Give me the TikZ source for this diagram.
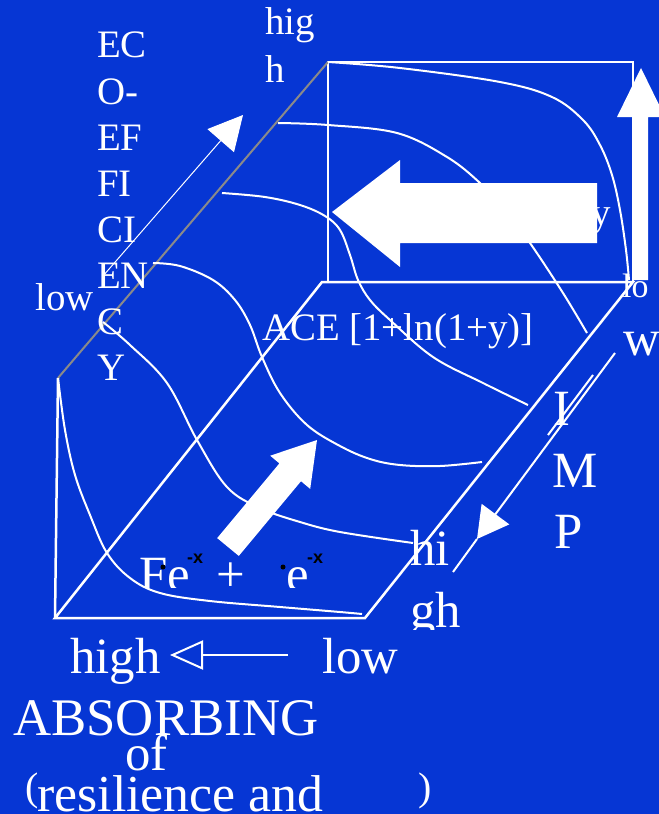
\documentclass[tikz,border=0pt]{standalone}
\usepackage{fontspec}
\setmainfont{Liberation Serif}
\newfontfamily\supfont{Liberation Sans}
\usetikzlibrary{arrows.meta}
\definecolor{slideblue}{HTML}{0636D4}
\definecolor{axisgray}{HTML}{8A8A8A}
\tikzset{
  lbl/.style={text=white,inner sep=0pt,anchor=base west,font=\fontsize{39}{46}\selectfont},
  biglbl/.style={lbl,font=\fontsize{51}{60}\selectfont},
  supx/.style={text=black,inner sep=0pt,anchor=base west,font=\supfont\bfseries\fontsize{18}{20}\selectfont},
  edge/.style={white,line width=2.5bp},
  curve/.style={white,line width=2bp},
}

\begin{document}
\begin{tikzpicture}[x=1bp,y=-1bp]
  \fill[slideblue] (0,0) rectangle (659,814);
  \useasboundingbox (0,0) rectangle (659,814);
  \clip (0,0) rectangle (659,814);

  % box corners
  \coordinate (bTL) at (328,62);  \coordinate (bTR) at (633,62);
  \coordinate (bBL) at (328,282); \coordinate (bBR) at (633,282);
  \coordinate (fBL) at (322,282); \coordinate (fFL) at (55,618);
  \coordinate (fFR) at (365,618); \coordinate (fTL) at (58,378);

  % back plane, floor, front edge
  \draw[edge] (bBL) -- (bTL) -- (bTR) -- (bBR);
  \draw[edge] (fFL) -- (fBL) -- (bBR) -- (fFR) -- cycle;
  \draw[edge] (fTL) -- (fFL);
  \draw[axisgray,line width=2bp] (fTL) -- (bTL);

  % response curves
  \draw[curve] plot[smooth,tension=0.6] coordinates {(58,378) (65,430) (75,475) (90,515) (107,553) (130,578) (160,593) (210,601) (280,607) (340,612) (362,614)};
  \draw[curve] plot[smooth,tension=0.6] coordinates {(103,322) (130,345) (167,383) (197,440) (227,487) (260,508) (300,522) (340,532) (413,543)};
  \draw[curve] plot[smooth,tension=0.6] coordinates {(153,263) (180,266) (213,280) (235,300) (250,325) (262,357) (280,393) (307,425) (340,446) (370,459) (400,465) (440,466) (482,462)};
  \draw[curve] plot[smooth,tension=0.6] coordinates {(222,193) (265,197) (300,205) (325,216) (340,230) (350,255) (358,280) (370,300) (390,320) (433,357) (483,383) (528,405)};
  \draw[curve] plot[smooth,tension=0.6] coordinates {(278,123) (328,125) (397,133) (447,157) (480,183) (505,210) (530,243) (563,293) (587,333)};
  \draw[curve] plot[smooth,tension=0.6] coordinates {(328,62) (400,68) (500,82) (552,97) (583,120) (600,145) (612,175) (620,210) (626,250) (629,280)};

  % eco-efficiency axis
  \foreach \t [count=\i] in {EC,O-,EF,FI,CI,EN,C,Y}
    \node[lbl] (eco\i) at (97,{58+46*(\i-1)}) {\t};
  \node[lbl] (ecohi1) at (265,35) {hig};
  \node[lbl] (ecohi2) at (265,82) {h};
  \node[lbl] (ecolow) at (35,310) {low};
  \coordinate (ecoS) at (103,276); \coordinate (ecoE) at (243,115);
  \draw[white,line width=1bp,-{Triangle[length=34bp,width=35bp]}] (ecoS) -- (ecoE);

  \node[lbl] (ace) at (262,340) {ACE [1+ln(1+y)]};
  \node[lbl] (yend) at (591,225) {y};

  % block arrows
  \fill[white] (332,212) -- (400,160) -- (400,183) -- (597,183) -- (597,243) -- (400,243) -- (400,267) -- cycle;
  \fill[white] (641,68) -- (665,117) -- (648,117) -- (648,280) -- (633,280) -- (633,117) -- (617,117) -- cycle;
  \fill[white] (317,440) -- (310.2,488.9) -- (301,481.2) -- (238.8,555.9) -- (217.2,538.1) -- (279.4,463.4) -- (270.2,455.7) -- cycle;

  % impact axis
  \node[lbl,font=\fontsize{34}{40}\selectfont] (implo1) at (622,297) {lo};
  \node[biglbl] (implo2) at (623,355) {w};
  \node[biglbl] (impI) at (553,425) {I};
  \node[biglbl] (impM) at (552,487) {M};
  \node[biglbl] (impP) at (554,548) {P};
  \coordinate (impS) at (615,353); \coordinate (impT) at (477,539); \coordinate (impE) at (453,572);
  \draw[white,line width=2bp,-{Triangle[length=31bp,width=34bp]}] (impS) -- (impT);
  \draw[white,line width=2bp] (impT) -- (impE);
  \draw[white,line width=0.6bp,double,double distance=0.8bp] (593,375) -- (548,435);
  \begin{scope}
    \clip (0,0) rectangle (659,629);
    \node[biglbl] (imphi1) at (410,565) {hi};
    \node[biglbl] (imphi2) at (410,627) {gh};
  \end{scope}

  % formula
  \begin{scope}
    \clip (0,0) rectangle (659,587);
    \node[biglbl] (fe) at (139,591) {Fe};
    \node[biglbl] (plus) at (216,591) {+};
    \node[biglbl] (e2) at (286,591) {e};
  \end{scope}
  \node[supx] (sup1) at (187,563) {-x};
  \node[supx] (sup2) at (307,563) {-x};
  \fill[black] (163,567) circle (2.5bp);
  \fill[black] (283,567) circle (2.5bp);

  % absorbing axis
  \node[biglbl] (abhigh) at (70,673) {high};
  \node[biglbl] (ablow) at (322,673) {low};
  \coordinate (abS) at (288,655); \coordinate (abE) at (170,655);
  \draw[white,line width=1.2bp,-{Triangle[open,length=33bp,width=29bp,line width=2bp]}] (abS) -- (abE);
  \node[lbl,font=\fontsize{53}{60}\selectfont] (absorb) at (13,735) {ABSORBING};
  \node[biglbl] (abof) at (125,770) {of};
  \node[lbl,font=\fontsize{40}{46}\selectfont] (parl) at (25,800) {(};
  \node[lbl,font=\fontsize{52}{60}\selectfont] (resil) at (37,811) {resilience and};
  \node[lbl,font=\fontsize{40}{46}\selectfont] (parr) at (418,800) {)};
\end{tikzpicture}
\end{document}
